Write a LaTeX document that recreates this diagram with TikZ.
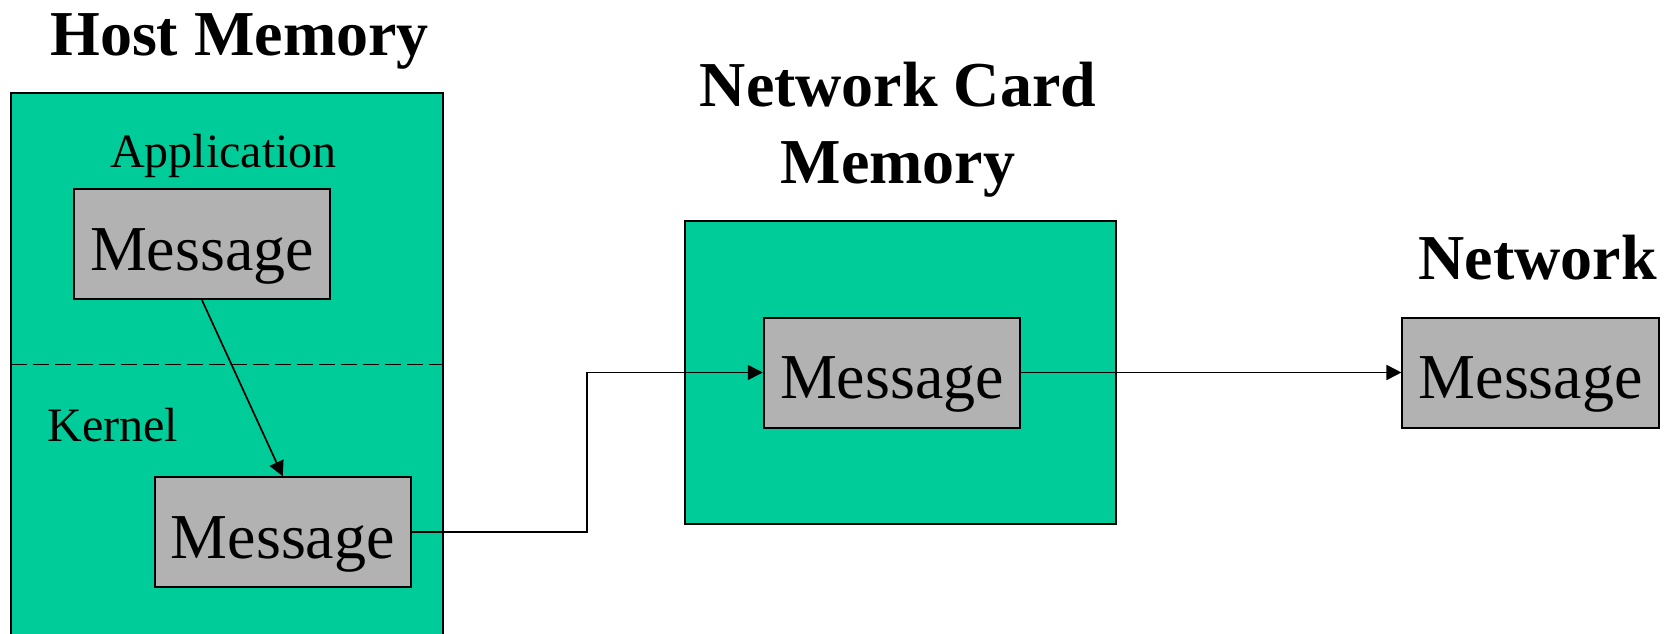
\documentclass[tikz,border=0pt]{standalone}
\usepackage{fontspec}
\setmainfont{Liberation Serif}
\usetikzlibrary{arrows.meta}
\definecolor{board}{RGB}{0,204,153}
\definecolor{packet}{RGB}{178,178,178}
\tikzset{
  region/.style={draw=black, line width=1pt, fill=board},
  msgbox/.style={draw=black, line width=1pt, fill=packet, inner sep=0pt,
    minimum width=128.25pt, minimum height=55pt,
    text height=30pt, text depth=4pt, font=\fontsize{32}{36}\selectfont},
  title/.style={anchor=base, inner sep=0pt, font=\fontsize{32}{36}\selectfont\bfseries},
  layer/.style={inner sep=0pt, font=\fontsize{24}{28}\selectfont},
  flow/.style={line width=0.85pt, -{Triangle[length=7.5pt,width=7.5pt]}}
}
\begin{document}
\begin{tikzpicture}[x=0.5pt,y=0.5pt]
\useasboundingbox (0,0) rectangle (1676,633);
\clip (0,0) rectangle (1676,633);

% host memory region, split into user and kernel space
\draw[region] (10.7,-20) rectangle (442.5,540);
\draw[line width=0.8pt, dash pattern=on 8pt off 3pt] (10.7,268.5) -- (442.5,268.5);
\node[title] (hosttitle) at (239.5,577.4) {Host Memory};
\node[layer, anchor=base] (app) at (223.4,465) {Application};
\node[layer, anchor=base west] (kern) at (47,191.5) {Kernel};
\node[msgbox] (appmsg) at (202,388.8) {Message};
\node[msgbox] (kernmsg) at (282.8,100.7) {Message};

% network card memory
\draw[region] (685.2,109.2) rectangle (1115.9,411.7);
\node[title] (nictitle1) at (898,526) {Network Card};
\node[title] (nictitle2) at (898,449) {Memory};
\node[msgbox] (nicmsg) at (892,260.5) {Message};

% network
\node[title] (nettitle) at (1537.7,353) {Network};
\node[msgbox] (netmsg) at (1530.7,260.5) {Message};

% data path
\coordinate (bendlow) at (586.8,100.7);
\coordinate (bendhigh) at (586.8,260.5);
\draw[flow] (appmsg.south) -- (kernmsg.north);
\draw[flow] (kernmsg.east) -- (bendlow) -- (bendhigh) -- (nicmsg.west);
\draw[flow] (nicmsg.east) -- (netmsg.west);
\end{tikzpicture}
\end{document}
